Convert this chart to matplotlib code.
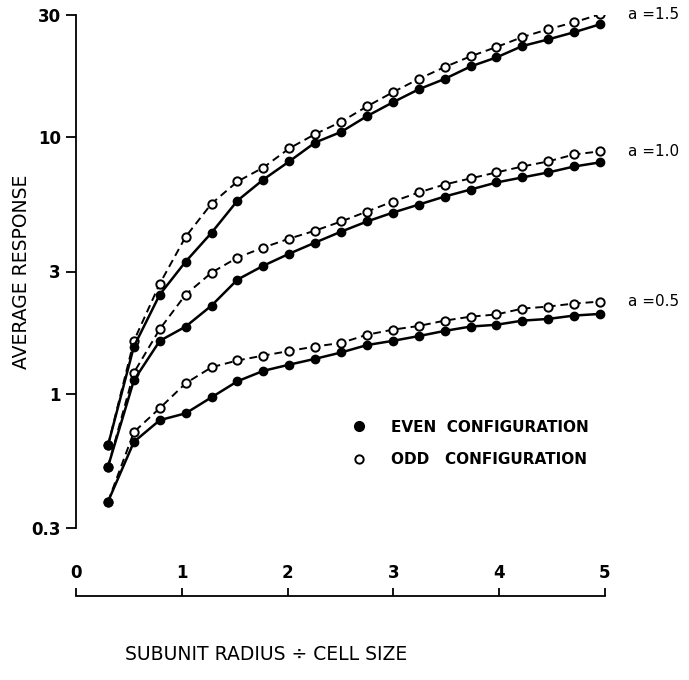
import numpy as np
import matplotlib
matplotlib.use("Agg")
import matplotlib.pyplot as plt
from matplotlib.lines import Line2D

# subunit radius / cell size
radius = [0.25, 0.5, 0.75, 1.0, 1.25, 1.5, 1.75, 2.0, 2.25, 2.5,
          2.75, 3.0, 3.25, 3.5, 3.75, 4.0, 4.25, 4.5, 4.75, 5.0]

# average response
even_a15 = [0.63, 1.53, 2.44, 3.28, 4.25, 5.67, 6.85, 8.06, 9.55, 10.5,
            12.1, 13.7, 15.4, 16.9, 18.9, 20.5, 22.7, 24.1, 25.7, 27.6]
odd_a15 = [0.63, 1.61, 2.69, 4.10, 5.52, 6.73, 7.63, 9.06, 10.3, 11.5,
           13.2, 15.0, 16.9, 18.8, 20.7, 22.5, 24.6, 26.4, 28.1, 30.2]
even_a10 = [0.52, 1.13, 1.61, 1.83, 2.21, 2.79, 3.16, 3.52, 3.89, 4.29,
            4.70, 5.09, 5.47, 5.88, 6.26, 6.67, 6.98, 7.30, 7.70, 7.99]
odd_a10 = [0.52, 1.21, 1.79, 2.44, 2.97, 3.40, 3.72, 4.03, 4.33, 4.70,
           5.14, 5.62, 6.10, 6.55, 6.92, 7.30, 7.70, 8.06, 8.58, 8.82]
even_a05 = [0.38, 0.65, 0.79, 0.84, 0.97, 1.12, 1.23, 1.30, 1.37, 1.45,
            1.55, 1.61, 1.68, 1.76, 1.83, 1.86, 1.93, 1.96, 2.02, 2.05]
odd_a05 = [0.38, 0.71, 0.88, 1.10, 1.27, 1.35, 1.41, 1.47, 1.53, 1.58,
           1.70, 1.78, 1.84, 1.93, 2.00, 2.04, 2.15, 2.19, 2.25, 2.29]

curve_labels = ["a =1.5", "a =1.0", "a =0.5"]
y_ticks = [0.3, 1, 3, 10, 30]
y_ticklabels = ["0.3", "1", "3", "10", "30"]
x_ticks = [0, 1, 2, 3, 4, 5]

W, H = 689, 680
fig = plt.figure(figsize=(W / 100, H / 100), dpi=100)

def px(x0, y0, x1, y1):
    # pixel box -> figure fraction rect
    return [x0 / W, 1 - y1 / H, (x1 - x0) / W, (y1 - y0) / H]

ax = fig.add_axes(px(76, 15, 605, 528))
ax.set_yscale("log")
ax.set_ylim(0.3, 30)
ax.set_xlim(-0.059, 5.048)

pairs = [(even_a15, odd_a15), (even_a10, odd_a10), (even_a05, odd_a05)]
for (ev, od), lab in zip(pairs, curve_labels):
    ax.plot(radius, od, color="black", lw=1.4, ls=(0, (4, 2.5)),
            marker="o", ms=6, mfc="white", mec="black", mew=1.4, zorder=2)
    ax.plot(radius, ev, color="black", lw=1.8, ls="-",
            marker="o", ms=6, mfc="black", mec="black", zorder=3)
    ax.annotate(lab, xy=(radius[-1], od[-1]), xytext=(20, 0),
                textcoords="offset points", va="center", ha="left",
                fontsize=11, annotation_clip=False)

for s in ["top", "right", "bottom"]:
    ax.spines[s].set_visible(False)
ax.spines["left"].set_linewidth(1.3)
ax.set_xticks([])
ax.set_yticks(y_ticks)
ax.set_yticklabels(y_ticklabels, fontsize=12, fontweight="bold")
ax.yaxis.set_minor_locator(matplotlib.ticker.NullLocator())
ax.tick_params(axis="y", length=7, width=1.3, pad=4)
ax.set_ylabel("AVERAGE RESPONSE", fontsize=13.5)
ax.yaxis.set_label_coords(-0.085, 0.5)

# separate x-axis below the plot, labels above the line
ax2 = fig.add_axes(px(76, 595.5, 605, 596.5))
ax2.set_xlim(0, 5)
ax2.set_ylim(0, 1)
for s in ["left", "right", "bottom"]:
    ax2.spines[s].set_visible(False)
ax2.spines["top"].set_linewidth(1.3)
ax2.set_yticks([])
ax2.xaxis.tick_top()
ax2.set_xticks(x_ticks)
ax2.set_xticklabels([str(t) for t in x_ticks], fontsize=12, fontweight="bold")
ax2.tick_params(axis="x", direction="out", length=6, width=1.3, pad=4)
ax2.patch.set_visible(False)

fig.text(266 / W, 1 - 655 / H, "SUBUNIT RADIUS ÷ CELL SIZE",
         ha="center", va="center", fontsize=13.5)

handles = [Line2D([], [], ls="none", marker="o", ms=7, mfc="black", mec="black"),
           Line2D([], [], ls="none", marker="o", ms=6, mfc="white", mec="black", mew=1.4)]
fig.legend(handles, ["EVEN  CONFIGURATION", "ODD   CONFIGURATION"],
           loc="upper left", bbox_to_anchor=(344 / W, 1 - 412 / H),
           frameon=False, handlelength=1.0, handletextpad=1.6,
           labelspacing=1.15, borderpad=0, prop={"size": 11, "weight": "bold"})

fig.savefig("out.png", dpi=100)
